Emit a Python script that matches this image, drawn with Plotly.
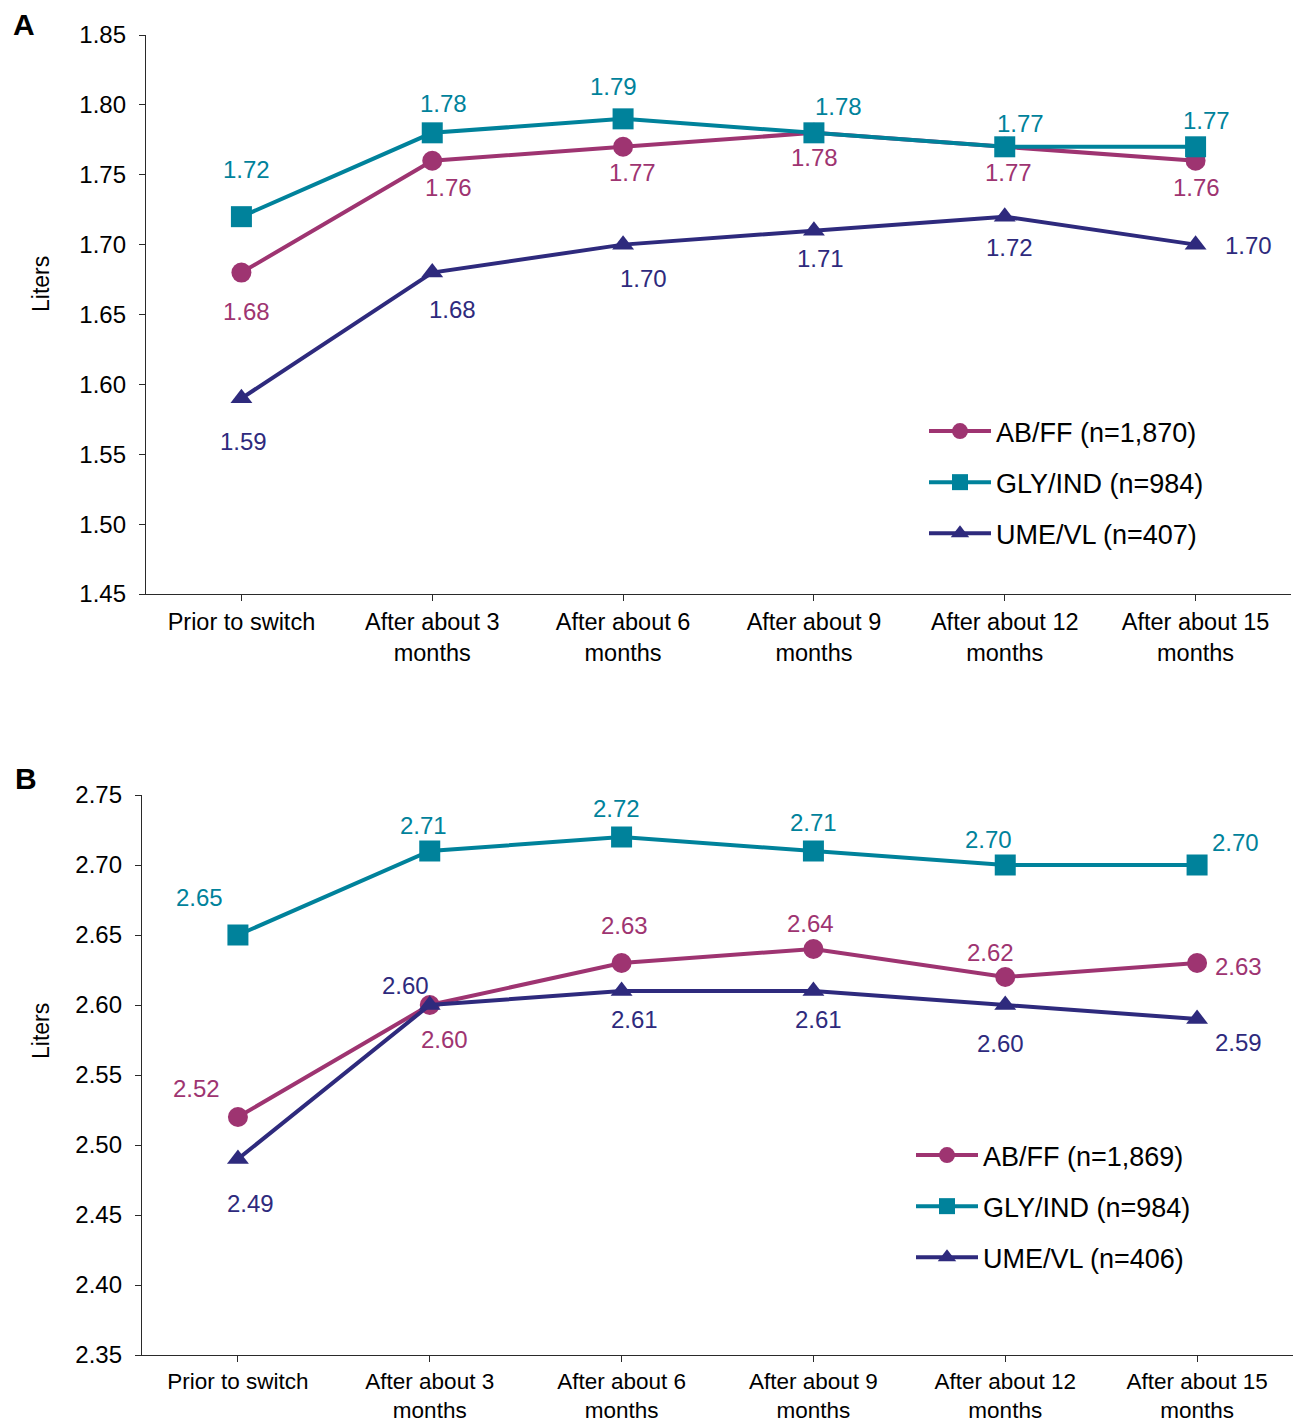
import plotly.graph_objects as go

W, H = 1298, 1422
FONT = "Liberation Sans, Arial, sans-serif"

categories = ["Prior to switch", "After about 3<br>months", "After about 6<br>months",
              "After about 9<br>months", "After about 12<br>months", "After about 15<br>months"]

# Panel A
a_abff = [1.68, 1.76, 1.77, 1.78, 1.77, 1.76]
a_glyind = [1.72, 1.78, 1.79, 1.78, 1.77, 1.77]
a_umevl = [1.59, 1.68, 1.70, 1.71, 1.72, 1.70]
a_names = ["AB/FF (n=1,870)", "GLY/IND (n=984)", "UME/VL (n=407)"]
a_ticks = [1.45, 1.50, 1.55, 1.60, 1.65, 1.70, 1.75, 1.80, 1.85]

# Panel B
b_abff = [2.52, 2.60, 2.63, 2.64, 2.62, 2.63]
b_glyind = [2.65, 2.71, 2.72, 2.71, 2.70, 2.70]
b_umevl = [2.49, 2.60, 2.61, 2.61, 2.60, 2.59]
b_names = ["AB/FF (n=1,869)", "GLY/IND (n=984)", "UME/VL (n=406)"]
b_ticks = [2.35, 2.40, 2.45, 2.50, 2.55, 2.60, 2.65, 2.70, 2.75]

colors = ["#9E3471", "#00829B", "#2E2A7D"]
symbols = ["circle", "square", "triangle-up"]
msizes = [20, 21, 19]

# label offsets (dx, dy in px; dy positive = down)
a_off = [
    [(5, 39), (16, 27), (9, 26), (1, 25), (4, 26), (1, 27)],
    [(5, -47), (11, -29), (-10, -32), (25, -26), (16, -23), (11, -26)],
    [(2, 43), (20, 37), (20, 34), (7, 28), (5, 31), (53, 1)],
]
b_off = [
    [(-41, -29), (15, 34), (3, -37), (-3, -25), (-15, -24), (41, 4)],
    [(-38, -37), (-6, -25), (-5, -28), (0, -28), (-17, -25), (38, -22)],
    [(13, 44), (-24, -19), (13, 29), (5, 29), (-5, 38), (41, 23)],
]

fig = go.Figure()
annotations = []

panels = [
    ("x", "y", "legend", [a_abff, a_glyind, a_umevl], a_names, a_off),
    ("x2", "y2", "legend2", [b_abff, b_glyind, b_umevl], b_names, b_off),
]

for xa, ya, lg, series, names, offs in panels:
    for i, (vals, name) in enumerate(zip(series, names)):
        fig.add_trace(go.Scatter(
            x=list(range(len(categories))), y=vals, name=name, mode="lines+markers",
            xaxis=xa, yaxis=ya, legend=lg, legendgroup=f"{lg}{i}",
            line=dict(color=colors[i], width=4),
            marker=dict(symbol=symbols[i], size=msizes[i], color=colors[i]),
            showlegend=True,
        ))
        for j, v in enumerate(vals):
            dx, dy = offs[i][j]
            annotations.append(dict(
                x=j, y=v, xref=xa, yref=ya, text=f"{v:.2f}", showarrow=False,
                xshift=dx, yshift=-dy, font=dict(family=FONT, size=24, color=colors[i]),
            ))

def px_x(p):
    return p / W

def px_y(p):
    return 1 - p / H

axis_common = dict(
    showline=True, linecolor="#2a2a2a", linewidth=1.3, ticks="outside", ticklen=6,
    tickcolor="#2a2a2a", tickwidth=1.3, showgrid=False, zeroline=False, automargin=False,
    tickfont=dict(family=FONT, size=24, color="black"),
)

xcommon = dict(axis_common, tickmode="array", tickvals=list(range(len(categories))),
               ticktext=categories, range=[-0.5, 5.5], tickson="boundaries",
               ticklabelstandoff=1, tickfont=dict(family=FONT, size=23.5, color="black"))

ycommon = dict(axis_common, tickformat=".2f", ticklabelstandoff=8)

fig.update_layout(
    width=W, height=H, margin=dict(l=0, r=0, t=0, b=0, autoexpand=False),
    paper_bgcolor="white", plot_bgcolor="white",
    font=dict(family=FONT, size=24, color="black"),
    xaxis=dict(xcommon, domain=[px_x(146), px_x(1291)], anchor="y", type="linear"),
    yaxis=dict(ycommon, domain=[px_y(594), px_y(35)], anchor="x",
               range=[1.45, 1.85], tickvals=a_ticks),
    xaxis2=dict(xcommon, domain=[px_x(142), px_x(1293)], anchor="y2", type="linear",
                ticklabelstandoff=0, tickfont=dict(family=FONT, size=22.5, color="black")),
    yaxis2=dict(ycommon, domain=[px_y(1355), px_y(795)], anchor="x2",
                range=[2.35, 2.75], tickvals=b_ticks),
    legend=dict(x=px_x(924), y=px_y(407), xanchor="left", yanchor="top",
                font=dict(family=FONT, size=27, color="black"), bgcolor="rgba(0,0,0,0)",
                traceorder="grouped", tracegroupgap=13, itemwidth=62),
    legend2=dict(x=px_x(911), y=px_y(1131), xanchor="left", yanchor="top",
                 font=dict(family=FONT, size=27, color="black"), bgcolor="rgba(0,0,0,0)",
                 traceorder="grouped", tracegroupgap=13, itemwidth=62),
    annotations=annotations + [
        dict(x=px_x(11), y=px_y(24), xref="paper", yref="paper", xanchor="left",
             yanchor="middle", text="<b>A</b>", showarrow=False,
             font=dict(family=FONT, size=30, color="black")),
        dict(x=px_x(13), y=px_y(778), xref="paper", yref="paper", xanchor="left",
             yanchor="middle", text="<b>B</b>", showarrow=False,
             font=dict(family=FONT, size=30, color="black")),
        dict(x=px_x(41), y=px_y(284), xref="paper", yref="paper", xanchor="center",
             yanchor="middle", text="Liters", textangle=-90, showarrow=False,
             font=dict(family=FONT, size=23, color="black")),
        dict(x=px_x(41), y=px_y(1031), xref="paper", yref="paper", xanchor="center",
             yanchor="middle", text="Liters", textangle=-90, showarrow=False,
             font=dict(family=FONT, size=23, color="black")),
    ],
)

fig.write_html("out.html", config={"displayModeBar": False},
               post_script="document.body.style.margin='0px';document.body.style.overflow='hidden';")
